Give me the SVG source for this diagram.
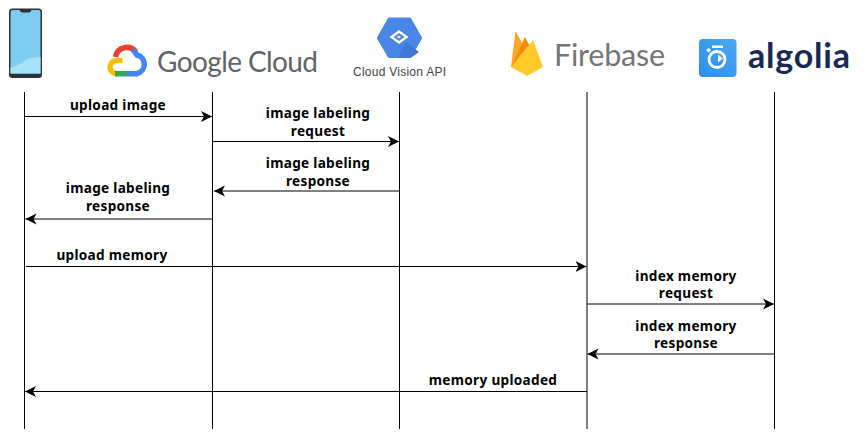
<svg xmlns="http://www.w3.org/2000/svg" width="864" height="443" viewBox="0 0 864 443">
<style>
.ll{stroke:#000;stroke-width:1;fill:none}
.ar{stroke:#000;stroke-width:1;fill:none;marker-end:url(#a)}
.lb{font-family:"Noto Sans","Liberation Sans",sans-serif;font-size:13.600px;letter-spacing:.3px;font-weight:700;text-anchor:middle;fill:#000}
</style>
<defs>
<marker id="a" markerUnits="userSpaceOnUse" markerWidth="12" markerHeight="13" refX="11" refY="6.500" orient="auto">
<path d="M0 1L11 6.500L0 12L3 6.500Z" fill="#000"/>
</marker>
<linearGradient id="alg" x1="0" y1="1" x2="1" y2="0"><stop offset="0" stop-color="#2a8fec"/><stop offset="1" stop-color="#4ba7f0"/></linearGradient>
</defs>
<rect width="864" height="443" fill="#fff"/>
<g id="phone">
<rect x="9" y="8.500" width="33" height="69.500" rx="3.500" fill="#2b3238"/>
<path d="M10.500 12Q10.500 10 12.500 10H19.500Q20.500 12.500 22 12.500H29Q30.500 12.500 31.500 10H38.500Q40.500 10 40.500 12V73.500H10.500Z" fill="#7ccdf0"/>
<path d="M10.500 73.500V68L20 64L24 61L30 58L40.500 57V73.500Z" fill="#a6e2f8"/>
</g>
<g id="google-cloud">
<path d="M120 73.500H116.500A6.500 6.500 0 0 1 116.500 60.500H122.500" fill="none" stroke="#fbbc04" stroke-width="5.500"/>
<path d="M115.500 57A11.500 11.500 0 0 1 136 52" fill="none" stroke="#ea4335" stroke-width="5.500"/>
<path d="M133 49.500L137 55A9.500 9.500 0 0 1 137 73.500" fill="none" stroke="#4285f4" stroke-width="5.500"/>
<rect x="127" y="71" width="11" height="5.500" fill="#4285f4"/>
<rect x="115" y="71" width="12" height="5.500" fill="#34a853"/>
<text x="157" y="72" font-family="Lato,sans-serif" font-size="28" fill="#5f6368" textLength="161">Google Cloud</text>
</g>
<g id="cloud-vision-api">
<path d="M379 38L389.500 19.500H409.500L420 38L409.500 56H389.500Z" fill="#4a86e8" stroke="#4a86e8" stroke-width="4" stroke-linejoin="round"/>
<path d="M406 42L419 52L410.500 58H398Z" fill="#3f78d6"/>
<path d="M389.500 37L399 30L408.500 37L399 44Z" fill="#fff"/>
<path d="M393.500 37L399 33L404.500 37L399 41Z" fill="#4a86e8"/>
<path d="M397 37L399 35.500L401 37L399 38.500Z" fill="#fff"/>
<text x="353" y="75.500" font-family="Liberation Sans,sans-serif" font-size="12" fill="#444" textLength="93">Cloud Vision API</text>
</g>
<g id="firebase">
<path d="M511 67L515.500 31L527 52Z" fill="#ffa726"/>
<path d="M511 67L525 37L533 52Z" fill="#f58c0f"/>
<path d="M511 67L533 40L543 67L527 76Z" fill="#ffca28"/>
<text x="554" y="66" font-family="Lato,sans-serif" font-size="30.500" fill="#757575" textLength="111">Firebase</text>
</g>
<g id="algolia">
<rect x="699" y="39" width="37.500" height="38" rx="4" fill="url(#alg)"/>
<circle cx="717" cy="59.500" r="8" fill="none" stroke="#fff" stroke-width="2.800"/>
<rect x="712" y="45.500" width="11" height="2.500" fill="#fff"/>
<path d="M706 50L709 48L711 50.500L708.500 52.500Z" fill="#fff"/>
<path d="M718 54.500L723 58.500L718 62.500Z" fill="#fff"/>
<text x="748" y="68" font-family="Lato,sans-serif" font-weight="700" font-size="34" fill="#182a54" textLength="102">algolia</text>
</g>
<g id="lifelines">
<path class="ll" d="M24.500 92V429M212.500 92V429M399.500 92V429M587 92V429M774.500 92V429"/>
</g>
<g id="connectors">
<path class="ar" d="M24.500 116.500H212"/>
<path class="ar" d="M212.500 141.500H399"/>
<path class="ar" d="M400 191H214"/>
<path class="ar" d="M212 219H25.500"/>
<path class="ar" d="M26 266.500H586.500"/>
<path class="ar" d="M587 304H774"/>
<path class="ar" d="M775 354H587.500"/>
<path class="ar" d="M587 391.500H25"/>
</g>
<g id="labels">
<text class="lb" x="118" y="110">upload image</text>
<text class="lb" x="318" y="118">image labeling</text>
<text class="lb" x="318" y="136">request</text>
<text class="lb" x="318" y="168">image labeling</text>
<text class="lb" x="318" y="186">response</text>
<text class="lb" x="118" y="193">image labeling</text>
<text class="lb" x="118" y="211">response</text>
<text class="lb" x="112" y="260">upload memory</text>
<text class="lb" x="686" y="281">index memory</text>
<text class="lb" x="686" y="298">request</text>
<text class="lb" x="686" y="331">index memory</text>
<text class="lb" x="686" y="348">response</text>
<text class="lb" x="493" y="385">memory uploaded</text>
</g>
</svg>
